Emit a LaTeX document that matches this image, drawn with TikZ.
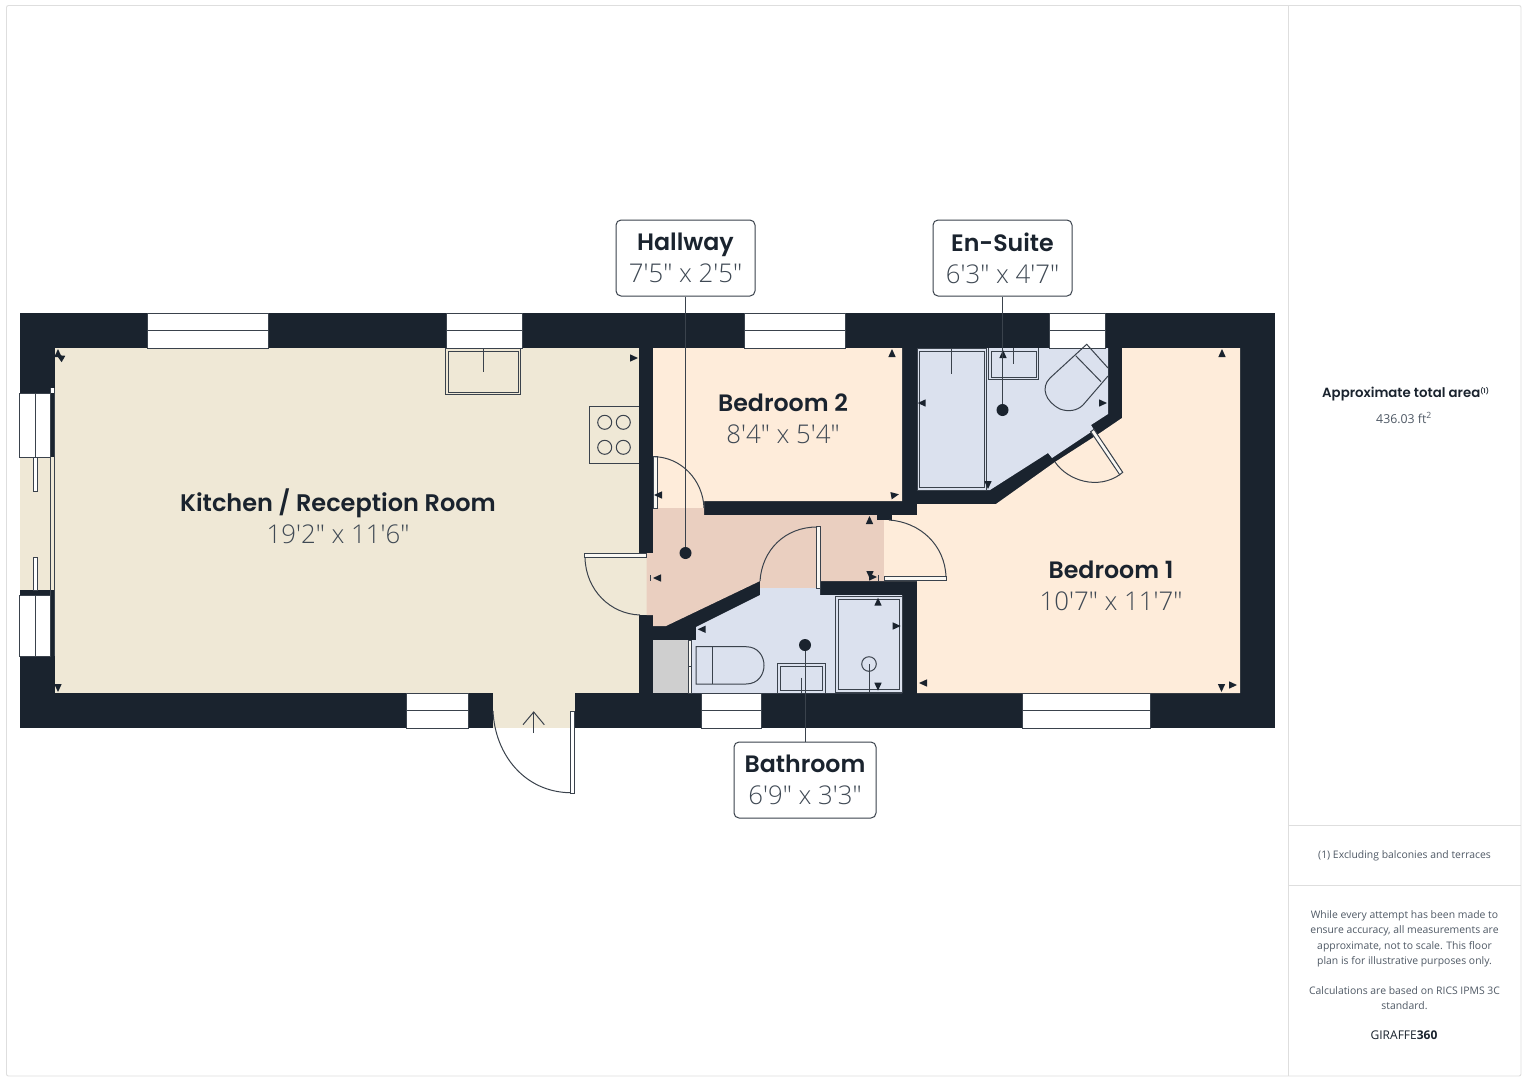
\documentclass[tikz,border=0pt]{standalone}
\usepackage{fontspec}
\setmainfont{Open Sans}
\newfontfamily\headfont{Poppins}[UprightFont=* SemiBold,BoldFont=* SemiBold]
\newfontfamily\sizefont{Open Sans}[UprightFont=* Light]
\definecolor{wallc}{HTML}{1A232E}
\definecolor{kitc}{HTML}{EFE8D6}
\definecolor{bedc}{HTML}{FEECDA}
\definecolor{hallc}{HTML}{EACFC0}
\definecolor{bathc}{HTML}{DBE1EE}
\definecolor{cupc}{HTML}{CFCFCF}
\definecolor{linec}{HTML}{3A424C}
\definecolor{greyc}{HTML}{3F4954}
\definecolor{sidec}{HTML}{4F5965}
\definecolor{framec}{HTML}{DEDEDE}
\tikzset{
  wall/.style={fill=wallc},
  outline/.style={draw=linec,line width=1pt},
  glass/.style={draw=linec,line width=1pt,fill=white},
  leaf/.style={draw=linec,line width=1pt,fill=white!70!kitc},
  leader/.style={draw=linec,line width=1pt},
  frameline/.style={draw=framec,line width=0.9pt},
  dot/.style={circle,fill=wallc,inner sep=0pt,minimum size=12pt},
  roomlabel/.style={align=center,inner sep=0pt,text=greyc},
  bigname/.style={roomlabel,font=\fontsize{24}{32}\selectfont},
  smallname/.style={roomlabel,font=\fontsize{23.7}{32}\selectfont},
  namebox/.style={smallname,draw=linec,line width=1pt,fill=white,rounded corners=5pt,minimum width=139pt,minimum height=76pt},
  sidetext/.style={align=center,inner sep=0pt,text=sidec,font=\fontsize{10.4}{15.2}\selectfont},
}
\newcommand{\sizeline}[1]{{\sizefont\fontsize{25.8}{32}\selectfont #1}}
\begin{document}
\begin{tikzpicture}[x=1pt,y=-1pt]
\useasboundingbox (0,0) rectangle (1527,1080);
\fill[white] (0,0) rectangle (1527,1080);
\draw[frameline,rounded corners=2pt] (6.5,5.5) rectangle (1521,1076);
\draw[frameline] (1288,5.5) -- (1288,1076);
\draw[frameline] (1288,825.5) -- (1521,825.5);
\draw[frameline] (1288,885.5) -- (1521,885.5);

\fill[wall] (19.5,313) rectangle (1275,728);
\fill[kitc] (55,348) rectangle (639,693);
\fill[kitc] (19.5,457) rectangle (55,590);
\fill[kitc] (492.5,693) rectangle (574.5,728);
\fill[kitc] (639,553) rectangle (647,615);
\fill[bedc] (653,348) -- (902,348) -- (902,501) -- (704,501) -- (704,508) -- (653,508) -- cycle;
\fill[hallc] (646.7,553) -- (653,553) -- (653,508) -- (704,508) -- (704,515) -- (884,515) -- (884,581) -- (820,581) -- (820,588) -- (760,588) -- (760,581) -- (666,626) -- (653,626) -- (653,615) -- (646.7,615) -- cycle;
\fill[bathc] (691,640) -- (696,640) -- (696,627) -- (760,595) -- (760,588) -- (820,588) -- (820,595) -- (902,595) -- (902,693) -- (691,693) -- cycle;
\fill[cupc] (653,640) rectangle (688,693);
\fill[bathc] (917,348) -- (1108,348) -- (1108,414) -- (1091,425) -- (1094,430) -- (1052,458) -- (1048,453) -- (990,490) -- (917,490) -- cycle;
\fill[bedc] (1122,348) -- (1240,348) -- (1240,693) -- (917,693) -- (917,581) -- (884,581) -- (884,515) -- (917,515) -- (917,504) -- (996,504) -- (1055,462) -- (1097,435) -- (1122,418) -- cycle;
\fill[wall] (877,515) rectangle (892,520);

\foreach \xa/\xb in {147/268.7,446/522,744/845,1049/1105}{
  \draw[glass] (\xa,313) rectangle (\xb,348);
  \draw[glass] (\xa,330.5) -- (\xb,330.5);
}
\foreach \xa/\xb in {406/468,701/761,1022/1150}{
  \draw[glass] (\xa,693) rectangle (\xb,728);
  \draw[glass] (\xa,710.5) -- (\xb,710.5);
}
\draw[glass] (19.5,393) rectangle (50.7,457);
\draw[glass] (35,393) -- (35,457);
\fill[wall] (19.5,590) rectangle (50.7,595);
\draw[glass] (19.5,595) rectangle (50.7,656);
\draw[glass] (35,595) -- (35,656);
\draw[outline] (50.7,388) -- (54.3,388) -- (54.3,656);
\fill[white] (51.1,388.4) rectangle (53.9,393);
\draw[outline] (50.7,388) -- (50.7,656);
\draw[outline,fill=white] (33.5,457) rectangle (37,491);
\draw[outline,fill=white] (33.5,557) rectangle (37,590);

\draw[outline] (445.3,348) -- (445.3,394.7) -- (520.3,394.7) -- (520.3,348);
\draw[outline] (448.5,351.7) rectangle (518,392);
\draw[outline] (483,348) -- (483,371.7);
\draw[outline] (639,406.7) -- (589.3,406.7) -- (589.3,463.3) -- (639,463.3);
\foreach \x in {604.7,623.3}
  \foreach \y in {422.3,447.3}
    \draw[outline] (\x,\y) circle (7);

\draw[leaf] (653.5,456.7) rectangle (657.7,508);
\draw[outline] (654,456.7) .. controls (681,457) and (703,480) .. (704,508);
\draw[leaf] (584.7,553.7) rectangle (646.7,557.7);
\draw[outline] (585,558) .. controls (586,590) and (610,614) .. (640,615);
\draw[leaf] (816.7,526.7) rectangle (820.7,588);
\draw[outline] (817,527) .. controls (785,527) and (762,550) .. (760,581);
\draw[leaf] (884,576.7) rectangle (946,580.7);
\draw[outline] (889,520) .. controls (920,522) and (945,545) .. (946,577);
\draw[outline] (878,575) -- (878,581);
\draw[leaf] (1090.7,431.7) -- (1094,429.3) -- (1122.7,472.3) -- (1119.7,474.7) -- cycle;
\draw[outline] (1055,462) .. controls (1068,481) and (1098,490) .. (1120,474.5);
\draw[leaf,fill=white] (570,711) rectangle (574.3,793);
\draw[outline] (493,711) .. controls (495,755) and (525,792) .. (570,792.7);
\draw[outline] (533.7,733) -- (533.7,712);
\draw[outline] (523,724.7) -- (533.7,712) -- (544.3,724.7);
\draw[leaf] (688,640) rectangle (691,693);
\draw[outline] (688,666) -- (691,666);

\draw[outline] (696,646.7) -- (746,646.7) .. controls (770,646.7) and (770,684) .. (746,684) -- (696,684) -- cycle;
\draw[outline] (712.3,646.7) -- (712.3,684);
\draw[outline] (777.7,693) -- (777.7,663) -- (825,663) -- (825,693);
\draw[outline] (780.5,666) rectangle (822,690);
\draw[outline] (801,677.7) -- (801,693);
\draw[outline] (835.7,692.5) -- (835.7,596.7) -- (902,596.7) -- (902,692.5) -- cycle;
\draw[outline] (838.3,599.3) rectangle (899.3,689.5);
\draw[outline] (869,664) circle (7.3);
\draw[outline] (869,664) -- (869,692);

\draw[outline] (917.3,348.7) rectangle (986.7,490);
\draw[outline] (919.5,351.7) rectangle (984.3,487.7);
\draw[outline] (951.3,348) -- (951.3,374.3);
\draw[outline] (988.3,348) -- (988.3,379.7) -- (1038.3,379.7) -- (1038.3,348);
\draw[outline] (991,351) rectangle (1036,377);
\draw[outline] (1013,348) -- (1013,364);
\draw[outline] (1108,368) -- (1086.7,344.3) -- (1050,378) .. controls (1040,388) and (1046,402) .. (1060,409) .. controls (1068,412) and (1077,411) .. (1083,405) -- (1108,376);
\draw[outline] (1075.7,355.7) -- (1101,381.7);

\foreach \x/\y/\a in {58/353/90,60/357/150,58/688/270,634/358/0,658/495/180,892/353/90,895/495/10,657/578/180,869.5/520/90,870/575/270,873/577/0,921.7/403/180,1103/403/0,1003/354/90,988/485/270,701.7/629.3/180,878/601.7/90,896.7/626/0,878/686.7/270,923/683/180,1222/353/90,1221.5/688/270,1233/685/0}
  \fill[wallc,shift={(\x,\y)},rotate=\a] (4,0) -- (-4,-3.7) -- (-4,3.7) -- cycle;
\draw[outline] (650.5,575) -- (650.5,581);

\node[bigname] (kitchen) at (338,516) {{\headfont\color{wallc}Kitchen / Reception Room}\\\sizeline{19'2" x 11'6"}};
\node[smallname] (bed2) at (783,419) {{\headfont\color{wallc}Bedroom 2}\\\sizeline{8'4" x 5'4"}};
\node[smallname] (bed1) at (1111,586) {{\headfont\color{wallc}Bedroom 1}\\\sizeline{10'7" x 11'7"}};

\node[dot] (halldot) at (685.5,553) {};
\node[dot] (ensuitedot) at (1002.5,410) {};
\node[dot] (bathdot) at (805,645) {};
\node[namebox] (hallway) at (685.5,258) {{\headfont\color{wallc}Hallway}\\\sizeline{7'5" x 2'5"}};
\node[namebox] (ensuite) at (1002.5,258) {{\headfont\color{wallc}En-Suite}\\\sizeline{6'3" x 4'7"}};
\node[namebox,minimum width=142pt] (bathroom) at (805,780) {{\headfont\color{wallc}Bathroom}\\\sizeline{6'9" x 3'3"}};
\draw[leader] (hallway) -- (halldot);
\draw[leader] (ensuite) -- (ensuitedot);
\draw[leader] (bathroom) -- (bathdot);

\node[sidetext,font=\fontsize{13.3}{18}\selectfont,anchor=west] (area) at (1322,394.5) {{\headfont\color{wallc}Approximate total area\raisebox{4pt}{\fontsize{6.5}{7}\selectfont(1)}}};
\node[sidetext,font=\fontsize{12.3}{15}\selectfont] (areaval) at (1404,418) {436.03 ft\textsuperscript{2}};
\node[sidetext] (excl) at (1404.5,856) {(1) Excluding balconies and terraces};
\node[sidetext] (disc) at (1404.5,960.5) {While every attempt has been made to\\ensure accuracy, all measurements are\\approximate, not to scale. This floor\\plan is for illustrative purposes only.\\[15.2pt]Calculations are based on RICS IPMS 3C\\standard.};
\node[sidetext,font=\fontsize{12}{15}\selectfont] (brand) at (1404,1035.5) {\textcolor{wallc}{GIRAFFE\textbf{360}}};
\end{tikzpicture}
\end{document}
